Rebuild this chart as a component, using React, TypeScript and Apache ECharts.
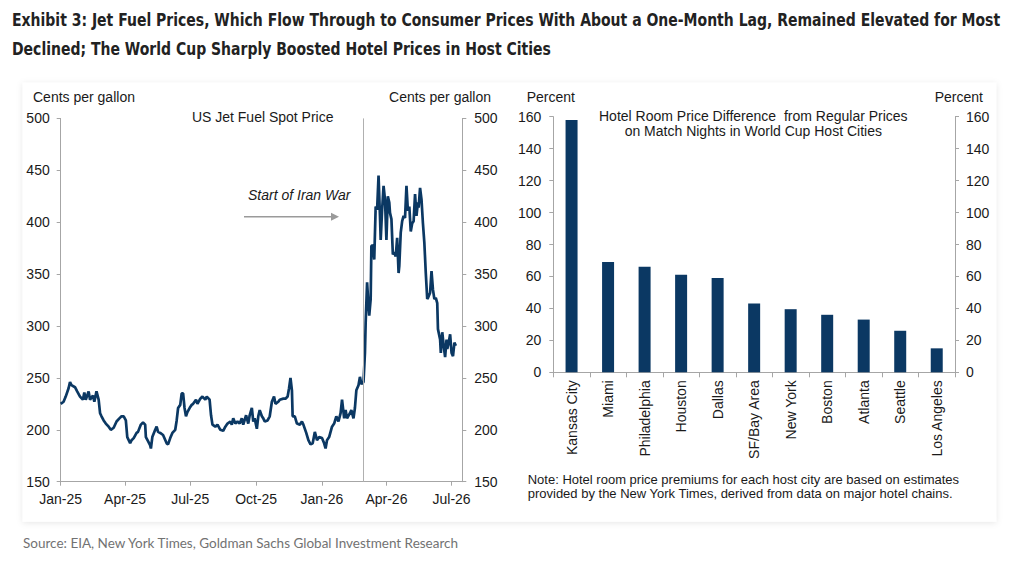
import React, { useEffect, useRef } from "react";
import * as echarts from "echarts";

const fuelDates = [
  "2025-01-01","2025-01-05","2025-01-08","2025-01-12","2025-01-14","2025-01-16","2025-01-21","2025-01-24","2025-01-28",
  "2025-02-01","2025-02-03","2025-02-05","2025-02-09","2025-02-11","2025-02-15","2025-02-17","2025-02-20","2025-02-23","2025-02-25","2025-02-27",
  "2025-03-02","2025-03-05","2025-03-09","2025-03-12","2025-03-16","2025-03-20","2025-03-24","2025-03-27","2025-03-30",
  "2025-04-02","2025-04-04","2025-04-08","2025-04-10","2025-04-13","2025-04-17","2025-04-19","2025-04-23","2025-04-26","2025-04-29","2025-04-30",
  "2025-05-03","2025-05-06","2025-05-07","2025-05-09","2025-05-13","2025-05-15","2025-05-17","2025-05-20","2025-05-24","2025-05-29","2025-05-31",
  "2025-06-03","2025-06-06","2025-06-10","2025-06-12","2025-06-14","2025-06-17","2025-06-19","2025-06-21","2025-06-23","2025-06-25","2025-06-27",
  "2025-07-01","2025-07-03","2025-07-05","2025-07-09","2025-07-11","2025-07-15","2025-07-18","2025-07-22","2025-07-24","2025-07-28","2025-07-30",
  "2025-08-01","2025-08-05","2025-08-08","2025-08-12","2025-08-16","2025-08-19","2025-08-22","2025-08-26","2025-08-28","2025-08-30",
  "2025-09-02","2025-09-05","2025-09-08","2025-09-11","2025-09-13","2025-09-17","2025-09-20","2025-09-22","2025-09-25","2025-09-27","2025-09-29",
  "2025-10-02","2025-10-04","2025-10-06","2025-10-09","2025-10-11","2025-10-13","2025-10-17","2025-10-20","2025-10-23","2025-10-26","2025-10-28",
  "2025-11-01","2025-11-03","2025-11-08","2025-11-11","2025-11-14","2025-11-16","2025-11-18","2025-11-20","2025-11-21","2025-11-24","2025-11-27",
  "2025-12-01","2025-12-04","2025-12-06","2025-12-10","2025-12-13","2025-12-16","2025-12-19","2025-12-22","2025-12-25","2025-12-28",
  "2026-01-01","2026-01-04","2026-01-06","2026-01-08","2026-01-11","2026-01-15","2026-01-18","2026-01-21","2026-01-24","2026-01-27","2026-01-29",
  "2026-02-01","2026-02-03","2026-02-05","2026-02-09","2026-02-11","2026-02-14","2026-02-16","2026-02-18","2026-02-21","2026-02-23","2026-02-25","2026-02-28",
  "2026-03-02","2026-03-03","2026-03-05","2026-03-07","2026-03-08","2026-03-10","2026-03-11","2026-03-13","2026-03-15","2026-03-17","2026-03-19","2026-03-21","2026-03-23","2026-03-24","2026-03-26","2026-03-28","2026-03-30",
  "2026-04-01","2026-04-03","2026-04-05","2026-04-06","2026-04-08","2026-04-10","2026-04-12","2026-04-14","2026-04-16","2026-04-18","2026-04-19","2026-04-21","2026-04-23","2026-04-25","2026-04-27","2026-04-29",
  "2026-05-01","2026-05-03","2026-05-05","2026-05-07","2026-05-09","2026-05-11","2026-05-13","2026-05-15","2026-05-16","2026-05-18","2026-05-20","2026-05-22","2026-05-24","2026-05-26","2026-05-28","2026-05-29",
  "2026-06-01","2026-06-03","2026-06-05","2026-06-07","2026-06-09","2026-06-11","2026-06-12","2026-06-15","2026-06-16","2026-06-18","2026-06-20","2026-06-22","2026-06-24","2026-06-25","2026-06-27","2026-06-29",
  "2026-07-01","2026-07-03","2026-07-05","2026-07-07",
];

const fuelPrices = [
  225,227,232,240,246,243,241,237,232,
  229,236,229,237,229,233,227,237,229,216,213,
  209,206,203,200,202,208,211,213,213,
  209,193,187,190,192,197,198,205,207,205,193,
  189,185,182,193,200,203,198,197,195,187,186,
  192,197,200,209,221,224,235,235,221,213,217,
  222,224,225,229,225,230,232,229,232,229,214,
  205,203,205,200,199,203,206,208,205,211,
  206,208,206,211,205,214,206,214,221,208,211,
  201,213,219,213,211,208,209,213,227,232,225,
  227,229,230,230,232,240,250,238,213,213,206,
  205,208,205,197,190,186,187,198,190,193,
  192,187,182,190,193,203,206,213,208,216,229,
  211,219,211,216,219,211,221,238,243,251,244,246,
  274,303,342,319,310,326,377,378,364,415,412,445,406,383,412,435,422,
  383,425,419,409,403,369,371,367,385,351,358,390,401,406,404,435,
  411,415,391,399,401,427,406,419,414,433,422,399,380,351,326,327,
  332,353,335,326,327,322,297,287,274,294,281,270,287,278,284,292,
  274,271,284,281,
];

const fuelTickDates = ["2025-01-01","2025-04-01","2025-07-01","2025-10-01","2026-01-01","2026-04-01","2026-07-01"];
const fuelAxisMin = "2025-01-01";
const fuelAxisMax = "2026-07-16";
const iranWarStart = "2026-02-27";

const cities = ["Kansas City","Miami","Philadelphia","Houston","Dallas","SF/Bay Area","New York","Boston","Atlanta","Seattle","Los Angeles"];
const hotelPremiums = [158, 69, 66, 61, 59, 43, 39.5, 36, 33, 26, 15];

const MONTHS = ["Jan","Feb","Mar","Apr","May","Jun","Jul","Aug","Sep","Oct","Nov","Dec"];

function toTs(s: string): number {
  const [y, m, d] = s.split("-").map(Number);
  return new Date(y, m - 1, d).getTime();
}

const ARIAL = "'Liberation Sans', Arial, sans-serif";
const TITLE_FONT = "bold 18px 'Liberation Sans Narrow', 'DejaVu Sans Condensed', sans-serif";
const AXIS_COLOR = "#a6a6a6";
const TEXT_COLOR = "#1a1a1a";
const NAVY = "#0b3863";

export default function App() {
  const ref = useRef<HTMLDivElement>(null);

  useEffect(() => {
    if (!ref.current) return;
    const chart = echarts.init(ref.current, null, { renderer: "svg" });
    const tickTs = fuelTickDates.map(toTs);
    const lineData = fuelDates.map((d, i) => [toTs(d), fuelPrices[i]]);

    const yAxisCommon = {
      axisLine: { show: true, lineStyle: { color: AXIS_COLOR, width: 1 } },
      axisTick: { show: true, inside: false, length: 4, lineStyle: { color: AXIS_COLOR } },
      splitLine: { show: false },
      axisLabel: { color: TEXT_COLOR, fontSize: 14, fontFamily: ARIAL, margin: 11 },
    };

    const option: any = {
      animation: false,
      backgroundColor: "#ffffff",
      grid: [
        { left: 60.7, top: 118.4, width: 401.6, height: 363.3, containLabel: false },
        { left: 553.3, top: 116.7, width: 401.7, height: 255.6, containLabel: false },
      ],
      xAxis: [
        {
          type: "value",
          gridIndex: 0,
          min: toTs(fuelAxisMin),
          max: toTs(fuelAxisMax),
          axisLine: { show: true, lineStyle: { color: AXIS_COLOR, width: 1 } },
          axisTick: { show: true, length: 4, customValues: tickTs, lineStyle: { color: AXIS_COLOR } },
          splitLine: { show: false },
          axisLabel: {
            customValues: tickTs,
            color: TEXT_COLOR,
            fontSize: 14,
            fontFamily: ARIAL,
            margin: 10,
            formatter: (v: number) => {
              const d = new Date(v);
              return MONTHS[d.getMonth()] + "-" + String(d.getFullYear()).slice(2);
            },
          },
        },
        {
          type: "category",
          gridIndex: 1,
          data: cities,
          axisLine: { show: true, lineStyle: { color: AXIS_COLOR, width: 1 } },
          axisTick: { show: true, length: 5, alignWithLabel: false, interval: 0, lineStyle: { color: AXIS_COLOR } },
          axisLabel: { interval: 0, rotate: 90, color: TEXT_COLOR, fontSize: 14, fontFamily: ARIAL, margin: 8 },
        },
      ],
      yAxis: [
        { ...yAxisCommon, type: "value", gridIndex: 0, position: "left", min: 150, max: 500, interval: 50 },
        { ...yAxisCommon, type: "value", gridIndex: 0, position: "right", min: 150, max: 500, interval: 50,
          axisLabel: { ...yAxisCommon.axisLabel, margin: 12 } },
        { ...yAxisCommon, type: "value", gridIndex: 1, position: "left", min: 0, max: 160, interval: 20,
          axisLabel: { ...yAxisCommon.axisLabel, margin: 12 } },
        { ...yAxisCommon, type: "value", gridIndex: 1, position: "right", min: 0, max: 160, interval: 20,
          axisLabel: { ...yAxisCommon.axisLabel, margin: 11 } },
      ],
      series: [
        {
          type: "line",
          xAxisIndex: 0,
          yAxisIndex: 0,
          data: lineData,
          showSymbol: false,
          symbol: "none",
          lineStyle: { color: NAVY, width: 2.7 },
          markLine: {
            silent: true,
            symbol: "none",
            label: { show: false },
            lineStyle: { color: "#b0b0b0", type: "solid", width: 1 },
            data: [{ xAxis: toTs(iranWarStart) }],
          },
          z: 3,
        },
        {
          type: "bar",
          xAxisIndex: 1,
          yAxisIndex: 2,
          data: hotelPremiums,
          barWidth: 12,
          itemStyle: { color: NAVY },
        },
      ],
      graphic: [
        {
          type: "rect",
          z: -10,
          shape: { x: 22.7, y: 82.7, width: 973.5, height: 439 },
          style: { fill: "#ffffff", shadowBlur: 6, shadowColor: "rgba(0,0,0,0.10)", shadowOffsetY: 1 },
          silent: true,
        },
        {
          type: "text",
          x: 12, y: 20, scaleX: 0.865,
          style: {
            text: "Exhibit 3: Jet Fuel Prices, Which Flow Through to Consumer Prices With About a One-Month Lag, Remained Elevated for Most",
            font: TITLE_FONT,
            fill: "#222222",
            textVerticalAlign: "middle",
          },
        },
        {
          type: "text",
          x: 12, y: 49, scaleX: 0.865,
          style: {
            text: "Declined; The World Cup Sharply Boosted Hotel Prices in Host Cities",
            font: TITLE_FONT,
            fill: "#222222",
            textVerticalAlign: "middle",
          },
        },
        {
          type: "text",
          x: 33, y: 97,
          style: { text: "Cents per gallon", font: `14px ${ARIAL}`, fill: TEXT_COLOR, textVerticalAlign: "middle" },
        },
        {
          type: "text",
          x: 491, y: 97,
          style: { text: "Cents per gallon", font: `14px ${ARIAL}`, fill: TEXT_COLOR, textAlign: "right", textVerticalAlign: "middle" },
        },
        {
          type: "text",
          x: 262.7, y: 117,
          style: { text: "US Jet Fuel Spot Price", font: `14px ${ARIAL}`, fill: TEXT_COLOR, textAlign: "center", textVerticalAlign: "middle" },
        },
        {
          type: "text",
          x: 248, y: 195,
          style: { text: "Start of Iran War", font: `italic 14px ${ARIAL}`, fill: TEXT_COLOR, textVerticalAlign: "middle" },
        },
        {
          type: "line",
          shape: { x1: 244, y1: 216.7, x2: 332, y2: 216.7 },
          style: { stroke: "#9a9a9a", lineWidth: 1.5 },
        },
        {
          type: "polygon",
          shape: { points: [[331, 212.7], [339, 216.7], [331, 220.7]] },
          style: { fill: "#9a9a9a" },
        },
        {
          type: "text",
          x: 526.7, y: 97,
          style: { text: "Percent", font: `14px ${ARIAL}`, fill: TEXT_COLOR, textVerticalAlign: "middle" },
        },
        {
          type: "text",
          x: 983, y: 97,
          style: { text: "Percent", font: `14px ${ARIAL}`, fill: TEXT_COLOR, textAlign: "right", textVerticalAlign: "middle" },
        },
        {
          type: "text",
          x: 753.3, y: 115.7,
          style: { text: "Hotel Room Price Difference  from Regular Prices", font: `14px ${ARIAL}`, fill: TEXT_COLOR, textAlign: "center", textVerticalAlign: "middle" },
        },
        {
          type: "text",
          x: 753.3, y: 131.3,
          style: { text: "on Match Nights in World Cup Host Cities", font: `14px ${ARIAL}`, fill: TEXT_COLOR, textAlign: "center", textVerticalAlign: "middle" },
        },
        {
          type: "text",
          x: 527.7, y: 479,
          style: { text: "Note: Hotel room price premiums for each host city are based on estimates", font: `13px ${ARIAL}`, fill: TEXT_COLOR, textVerticalAlign: "middle" },
        },
        {
          type: "text",
          x: 527.7, y: 493.5,
          style: { text: "provided by the New York Times, derived from data on major hotel chains.", font: `13px ${ARIAL}`, fill: TEXT_COLOR, textVerticalAlign: "middle" },
        },
        {
          type: "text",
          x: 23, y: 543,
          style: { text: "Source: EIA, New York Times, Goldman Sachs Global Investment Research", font: "13.5px Lato, 'Open Sans', sans-serif", fill: "#727272", textVerticalAlign: "middle" },
        },
      ],
    };

    chart.setOption(option);
    return () => chart.dispose();
  }, []);

  return (
    <div
      ref={ref}
      style={{ position: "fixed", left: 0, top: 0, width: 1009, height: 564, background: "#fff" }}
    />
  );
}
